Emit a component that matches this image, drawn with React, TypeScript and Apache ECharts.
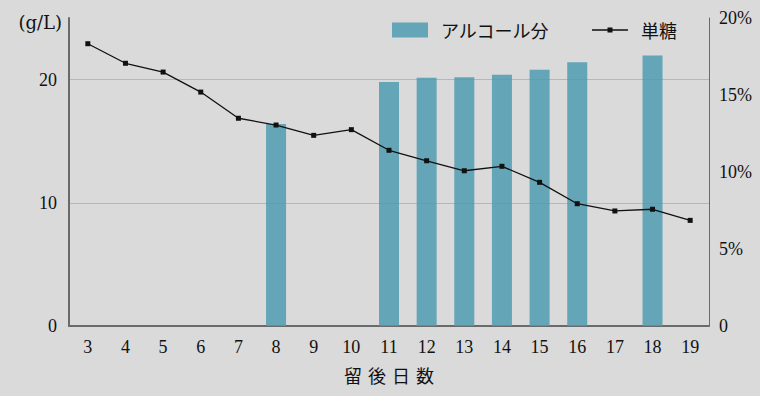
import React, { useEffect, useRef } from "react";
import * as echarts from "echarts";

const days = ["3", "4", "5", "6", "7", "8", "9", "10", "11", "12", "13", "14", "15", "16", "17", "18", "19"];
const alcohol: (number | null)[] = [null, null, null, null, null, 16.4, null, null, 19.8, 20.15, 20.2, 20.4, 20.8, 21.4, null, 21.95, null];
const sugar = [18.33, 17.06, 16.49, 15.19, 13.49, 13.05, 12.38, 12.75, 11.41, 10.73, 10.08, 10.37, 9.33, 7.94, 7.47, 7.58, 6.86];
const leftTicks = [0, 10, 20];
const rightTicks = [0, 5, 10, 15, 20];

const SERIF = "'Liberation Serif', 'DejaVu Serif', serif";
const JP = "'Noto Sans CJK JP', sans-serif";
const LINE_ICON = "path://M0,1.85 L36,1.85 L36,3.15 L0,3.15 Z M15.5,0 L20.5,0 L20.5,5 L15.5,5 Z";

export default function App() {
  const ref = useRef<HTMLDivElement>(null);
  useEffect(() => {
    document.body.style.margin = "0";
    const chart = echarts.init(ref.current!, null, { renderer: "svg" });
    chart.setOption({
      animation: false,
      backgroundColor: "#d9dad9",
      grid: { left: 69, right: 51, top: 18, bottom: 70 },
      legend: {
        left: 387,
        top: 16,
        itemWidth: 36,
        itemHeight: 15,
        itemGap: 43,
        textStyle: { fontFamily: JP, fontSize: 18, color: "#111", padding: [0, 0, 0, 8] },
        data: [
          { name: "アルコール分", icon: "rect" },
          { name: "単糖", icon: LINE_ICON, itemStyle: { color: "#111", borderWidth: 0 } },
        ],
      },
      xAxis: {
        type: "category",
        data: days,
        boundaryGap: true,
        axisLine: { lineStyle: { color: "#6a6a6a", width: 2 } },
        axisTick: { show: false },
        axisLabel: { fontFamily: SERIF, fontSize: 18, color: "#111", margin: 12 },
        name: "留\u2004後\u2004日\u2004数",
        nameLocation: "middle",
        nameGap: 40,
        nameTextStyle: { fontFamily: JP, fontSize: 18, color: "#111" },
      },
      yAxis: [
        {
          type: "value",
          min: 0,
          max: 25,
          interval: 10,
          name: "(g/L)",
          nameLocation: "end",
          nameGap: -4,
          nameTextStyle: { fontFamily: "'DejaVu Serif', serif", fontSize: 18, color: "#111", align: "right", verticalAlign: "middle", padding: [0, 7, 0, 0] },
          axisLine: { show: true, lineStyle: { color: "#6a6a6a", width: 2 } },
          axisTick: { show: false },
          axisLabel: {
            fontFamily: SERIF,
            fontSize: 18,
            color: "#111",
            margin: 12,
            showMaxLabel: false,
            formatter: (v: number) => (leftTicks.includes(v) ? String(v) : ""),
          },
          splitLine: { show: true, showMinLine: false, showMaxLine: false, lineStyle: { color: "#b5b6b5", width: 1 } },
        },
        {
          type: "value",
          min: 0,
          max: 20,
          interval: 5,
          position: "right",
          axisLine: { show: true, lineStyle: { color: "#6a6a6a", width: 1 } },
          axisTick: { show: false },
          axisLabel: {
            fontFamily: SERIF,
            fontSize: 18,
            color: "#111",
            margin: 10,
            formatter: (v: number) => (rightTicks.includes(v) ? (v === 0 ? "0" : v + "%") : ""),
          },
          splitLine: { show: false },
        },
      ],
      series: [
        {
          name: "アルコール分",
          type: "bar",
          yAxisIndex: 0,
          data: alcohol,
          barWidth: 20,
          itemStyle: { color: "rgba(79,156,178,0.85)" },
        },
        {
          name: "単糖",
          type: "line",
          yAxisIndex: 1,
          data: sugar,
          symbol: "rect",
          symbolSize: 5,
          lineStyle: { color: "#111", width: 1.3 },
          itemStyle: { color: "#111" },
        },
      ],
    });
    return () => chart.dispose();
  }, []);
  return <div ref={ref} style={{ width: 760, height: 396 }} />;
}
